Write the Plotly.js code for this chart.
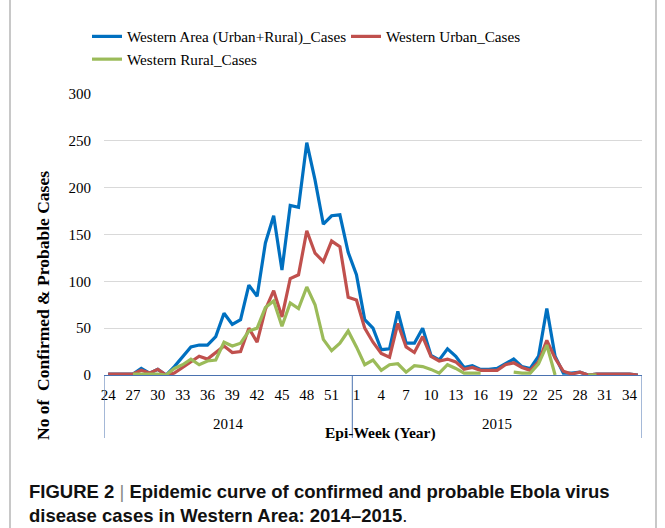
<!DOCTYPE html>
<html>
<head>
<meta charset="utf-8">
<script src="https://cdn.plot.ly/plotly-3.0.1.min.js"></script>
<style>html,body{margin:0;padding:0;background:#fff;}#chart{width:665px;height:528px;}</style>
</head>
<body>
<div id="chart"></div>
<script>
// Epi-weeks (category labels)
const weeks2014 = [24,25,26,27,28,29,30,31,32,33,34,35,36,37,38,39,40,41,42,43,44,45,46,47,48,49,50,51,52,53];
const weeks2015 = [1,2,3,4,5,6,7,8,9,10,11,12,13,14,15,16,17,18,19,20,21,22,23,24,25,26,27,28,29,30,31,32,33,34,35];
const tickWeeks2014 = [24,27,30,33,36,39,42,45,48,51];
const tickWeeks2015 = [1,4,7,10,13,16,19,22,25,28,31,34];
const yearLabels = ["2014","2015"];

// Series values (2014 weeks 24-53, then 2015 weeks 1-35)
const westernArea2014 = [1,1,1,1,7,2,6,0,9,20,30,32,32,41,66,54,59,96,84,141,170,112,181,179,248,208,161,170,171,131];
const westernArea2015 = [107,59,50,27,28,68,34,34,50,21,16,28,20,8,10,6,6,7,12,17,9,7,20,71,20,2,2,3,0,1,1,1,1,1,0];
const westernUrban2014 = [1,1,1,1,5,2,6,0,2,8,14,20,17,24,31,24,25,50,35,70,90,62,103,107,154,130,121,143,137,83];
const westernUrban2015 = [80,50,35,23,19,55,30,24,41,20,15,17,14,6,8,5,5,5,11,13,8,5,14,37,18,4,1,3,0,1,1,1,1,1,0];
const westernRural2014 = [null,null,null,1,1,1,1,0,7,11,17,11,15,16,35,31,34,47,50,72,79,52,77,71,94,75,38,26,34,47];
const westernRural2015 = [30,11,16,5,11,12,3,10,9,6,2,11,7,2,2,2,null,null,null,3,2,2,12,32,0,null,null,null,0,0,null,null,null,null,null];

const seriesNames = ["Western Area (Urban+Rural)_Cases","Western Urban_Cases","Western Rural_Cases"];
const seriesColors = ["#0070C0","#C0504D","#9BBB59"];

// x positions: category index along the two-year week axis
const cats = weeks2014.map(w => "2014-" + w).concat(weeks2015.map(w => "2015-" + w));
const xs = cats.map((c, i) => i);
const tickvals = tickWeeks2014.map(w => weeks2014.indexOf(w))
  .concat(tickWeeks2015.map(w => weeks2014.length + weeks2015.indexOf(w)));
const ticktext = tickWeeks2014.concat(tickWeeks2015).map(String);

const ys = [
  westernArea2014.concat(westernArea2015),
  westernUrban2014.concat(westernUrban2015),
  westernRural2014.concat(westernRural2015)
];

const traces = ys.map((y, k) => ({
  x: xs, y: y, type: "scatter", mode: "lines", name: seriesNames[k],
  line: {color: seriesColors[k], width: 3.2}, connectgaps: false, hoverinfo: "skip"
}));

// pixel helpers (plot area: x 104..642, y 94..375)
const L = 104, R = 642, T = 94, B = 375;
const px = p => (p - L) / (R - L);
const py = p => (B - p) / (B - T);

const serif = "Liberation Serif, Times New Roman, serif";
const axisBlue = "#4a72b0";
const n14 = weeks2014.length, nAll = cats.length;

const shapes = [
  // group dividers of the two-level category axis
  {type:"line", xref:"x", yref:"paper", x0:-0.5, x1:-0.5, y0:0, y1:py(438), line:{color:axisBlue, width:1}},
  {type:"line", xref:"x", yref:"paper", x0:n14-0.5, x1:n14-0.5, y0:0, y1:py(438), line:{color:axisBlue, width:1}},
  {type:"line", xref:"x", yref:"paper", x0:nAll-0.5, x1:nAll-0.5, y0:0, y1:py(438), line:{color:axisBlue, width:1}},
  // figure frame
  {type:"line", xref:"paper", yref:"paper", x0:px(10), x1:px(10), y0:py(0), y1:py(528), line:{color:"#c8c8c8", width:2}},
  {type:"line", xref:"paper", yref:"paper", x0:px(656), x1:px(656), y0:py(0), y1:py(528), line:{color:"#c8c8c8", width:2}}
];

const annotations = [
  {xref:"x", yref:"paper", x:(n14-1)/2, y:py(424), xanchor:"center", yanchor:"middle", text:yearLabels[0], showarrow:false, font:{family:serif, size:15, color:"#000"}},
  {xref:"x", yref:"paper", x:n14+(weeks2015.length-1)/2, y:py(424), xanchor:"center", yanchor:"middle", text:yearLabels[1], showarrow:false, font:{family:serif, size:15, color:"#000"}},
  {xref:"paper", yref:"paper", x:px(380), y:py(433), xanchor:"center", yanchor:"middle", text:"Epi-Week (Year)", showarrow:false, font:{family:serif, size:15.5, color:"#000", weight:"bold"}},
  {xref:"paper", yref:"paper", x:px(43), y:py(306), xanchor:"center", yanchor:"middle", text:"No of  Confirmed &amp; Probable Cases", textangle:-90, showarrow:false, font:{family:serif, size:17.5, color:"#000", weight:"bold"}},
  {xref:"paper", yref:"paper", x:px(27), y:py(479), xanchor:"left", yanchor:"top", align:"left",
   text:"FIGURE 2 <span style=\"font-weight:normal;color:#888\">|</span> Epidemic curve of confirmed and probable Ebola virus<br>disease cases in Western Area: 2014–2015<span style=\"font-weight:normal\">.</span>",
   showarrow:false, font:{family:"Liberation Sans, Arial, sans-serif", size:18.5, color:"#111", weight:"bold"}}
];

const layout = {
  width: 665, height: 528,
  margin: {l: L, r: 665 - R, t: T, b: 528 - B},
  paper_bgcolor: "#fff", plot_bgcolor: "#fff",
  showlegend: true,
  legend: {orientation:"h", x:px(87), y:py(20), xanchor:"left", yanchor:"top",
           entrywidth:214, entrywidthmode:"pixels",
           font:{family:serif, size:15.2, color:"#000"}, itemwidth:30, tracegroupgap:0,
           bgcolor:"rgba(0,0,0,0)"},
  xaxis: {range:[-0.5, nAll-0.5], tickmode:"array", tickvals:tickvals, ticktext:ticktext,
          showgrid:false, zeroline:false, showline:true, linecolor:axisBlue, linewidth:1,
          ticks:"", tickfont:{family:serif, size:15, color:"#000"}, ticklabelstandoff:6, fixedrange:true},
  yaxis: {range:[0, 300], tickvals:[0,50,100,150,200,250,300], showgrid:true, gridcolor:"#d9d9d9", gridwidth:1,
          zeroline:false, showline:false, ticks:"", tickfont:{family:serif, size:15, color:"#000"},
          ticklabelstandoff:12, fixedrange:true},
  shapes: shapes,
  annotations: annotations
};

Plotly.newPlot("chart", traces, layout, {staticPlot:true, displayModeBar:false});
</script>
</body>
</html>
